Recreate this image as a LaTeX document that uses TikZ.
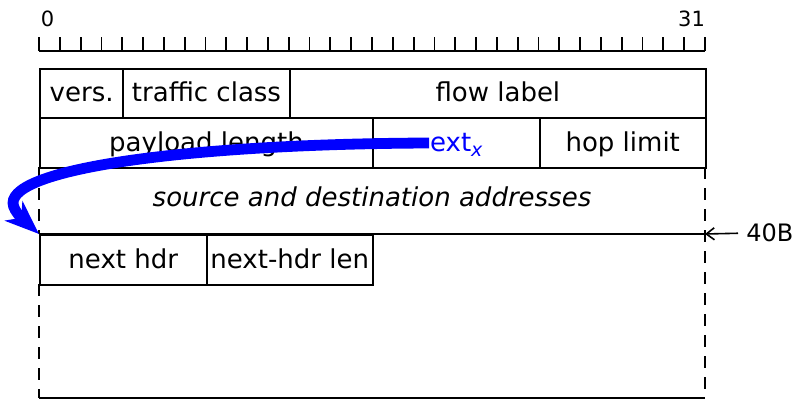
\documentclass[tikz,border=0pt]{standalone}
\usepackage{fontspec}
\setmainfont{DejaVu Sans}
\usetikzlibrary{arrows.meta}

% one bit of the 32-bit word, as a length
\def\bw{10.40625pt}

\begin{document}
\begin{tikzpicture}[x=0.5pt,y=-0.5pt,
  field/.style={draw, line width=1pt, inner sep=0pt, anchor=north west,
    text height=11pt, text depth=2.5pt, font=\fontsize{13}{15}\selectfont},
  row1/.style={minimum height=24.5pt},
  row2/.style={minimum height=25pt},
  bits/.style={minimum width=#1*\bw},
  frame/.style={line width=1pt},
  open/.style={line width=1pt, dash pattern=on 6pt off 4.5pt},
  rulerline/.style={line width=0.9pt},
  bitno/.style={anchor=base, inner sep=0pt, font=\fontsize{10.5}{12}\selectfont},
  hopper/.style={blue, line width=5.4pt,
    -{Stealth[length=17pt,width=13pt,inset=5pt]}},
  marker/.style={line width=0.8pt, -{Straight Barb[length=4pt,width=6pt]}}
]
\useasboundingbox (0,0) rectangle (798,401);

% bit ruler
\draw[rulerline] (39,51) -- (705,51);
\foreach \i in {0,...,32}
  \draw[rulerline] ({39+\i*20.8125},51) -- ++(0,-14);
\node[bitno] (b0)  at (47.5,27) {0};
\node[bitno] (b31) at (691.5,27) {31};

% first word
\node[field,row1,bits=4]  (vers)  at (39,68)              {vers.};
\node[field,row1,bits=8]  (tc)    at ({39+4*20.8125},68)  {traffic class};
\node[field,row1,bits=20] (flow)  at ({39+12*20.8125},68) {flow label};

% second word
\node[field,row2,bits=16] (plen)  at (39,117)             {payload length};
\node[field,row2,bits=8]  (extc)  at ({39+16*20.8125},117) {};
\node[field,row2,bits=8]  (hop)   at ({39+24*20.8125},117) {hop limit};
\node[field,draw=none,anchor=center,text=blue] (ext) at (extc.center)
  {ext\raisebox{-2.5pt}{\fontsize{9.5}{10}\selectfont\itshape x}};

% addresses
\node[anchor=base, inner sep=0pt, font=\fontsize{13}{15}\selectfont\itshape]
  (addr) at (372,206) {source and destination addresses};
\draw[open] (39,167) -- (39,234);
\draw[open] (705,167) -- (705,398);
\draw[frame] (39,234) -- (705,234);

% extension header
\node[field,row2,bits=8] (nh)   at (39,234)                {next hdr};
\node[field,row2,bits=8] (nhl)  at ({39+8*20.8125},234)    {next-hdr len};
\draw[open] (39,284) -- (39,398);
\draw[frame] (39,398) -- (705,398);

% 40-byte mark
\coordinate (edge40) at (705,234);
\node[anchor=base west, inner xsep=4pt, inner ysep=0pt,
  font=\fontsize{12}{14}\selectfont] (sz) at (738,242) {40B};
\draw[marker] (sz.west) -- (edge40);

% the jump to the next header
\draw[hopper] (ext.west) .. controls (190,144) and (13,168) .. (13,203)
  .. controls (13,212) and (28,224) .. (nh.north west);
\end{tikzpicture}
\end{document}
